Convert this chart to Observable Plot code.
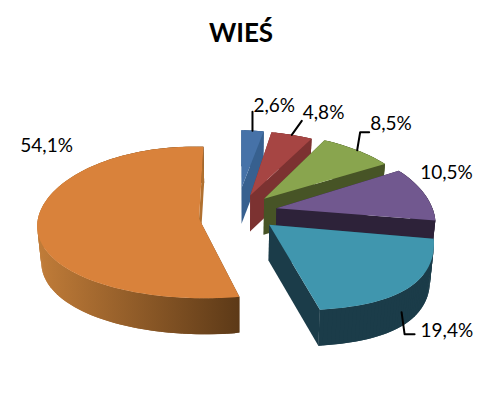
<!DOCTYPE html>
<html>
<head>
<meta charset="utf-8">
<script src="https://cdn.jsdelivr.net/npm/d3@7"></script>
<script src="https://cdn.jsdelivr.net/npm/@observablehq/plot@0.6"></script>
<style>html,body{margin:0;padding:0;background:#fff}</style>
</head>
<body>
<div id="chart"></div>
<script>
const title = "WIEŚ";
const values = [2.6, 4.8, 8.5, 10.5, 19.4, 54.1];
const topColors = ["#4672a8", "#a64543", "#89a54e", "#71588f", "#4096ae", "#d9823b"];
const wallColors = ["#37608f", "#7c3231", "#475426", "#2d2239", "#1b3c49", "url(#orangeWall)"];
const innerWallColors = ["#37608f", "#7c3231", "#475426", "#2d2239", "#1b3c49", "#b0702f"];
const drawOrder = [5, 0, 1, 2, 3, 4];

// 3D view settings
const view = {cx: 238, cy: 209, R: 159, K: 70, persp: 0.17, perspX: 0.12, ex: 0.248, ev: 0.33, depth: 36, shrink: 0.98, roll: 0.03, shear: 0.015};
// vertical fit of each slice: drop of its apex, linear and quadratic stretch away from the apex
const sliceFit = [
  {drop: 0, a: 1.065, b: 0}, {drop: 6.5, a: 1.19, b: 0}, {drop: 5, a: 1.2, b: 0},
  {drop: 3, a: 1.22, b: 0}, {drop: -1, a: 1.35, b: -0.00457}, {drop: 7.5, a: 1.081, b: -0.0018}
];
// label placement relative to each slice's outer arc at its middle angle
const labelOffsets = [[1, -25], [11, -22], [13, -26], [-4, -21], [14, 42], [-17, -78]];
const leaderPaths = [
  [[0, 0], [0, -19]],
  [[0, 0], [10, -14]],
  [[0, 0], [3, -18], [12, -18]],
  null,
  [[-5, 23], [-2, 45], [8, 45]],
  null
];

const total = d3.sum(values);
const starts = d3.cumsum([0, ...values]).map(d => d / total * 2 * Math.PI);
const mids = values.map((_, i) => (starts[i] + starts[i + 1]) / 2);

function raw(i, a, r) {
  const {cx, cy, R, K, persp, perspX, ex, ev} = view;
  const u = ex * Math.sin(mids[i]) + r * Math.sin(a);
  const v = -ev * Math.cos(mids[i]) - r * Math.cos(a);
  return [cx + R * u / (1 - perspX * v), cy + K * v / (1 - persp * v)];
}
function pt(i, a, r) {
  const {cx, cy, roll, shear} = view;
  const [x0, y0] = raw(i, a, r);
  const [, ya] = raw(i, mids[i], 0);
  const f = sliceFit[i];
  const dy = y0 - ya;
  const y1 = ya + f.drop + f.a * dy + f.b * dy * dy;
  return [x0 - shear * Math.max(0, y1 - cy), y1 + roll * (x0 - cx)];
}
const low = ([x, y]) => [view.cx + (x - view.cx) * view.shrink, y + view.depth];

const rows = [];
let pid = 0;
function poly(points, color) {
  pid++;
  for (const [x, y] of points) rows.push({id: pid, x, y, color});
}

for (const i of drawOrder) {
  const a0 = starts[i], a1 = starts[i + 1];
  const angles = d3.range(0, 1.0001, 1 / Math.max(8, Math.ceil((a1 - a0) * 40))).map(t => a0 + (a1 - a0) * t);
  const arc = angles.map(a => pt(i, a, 1));
  const apex = pt(i, mids[i], 0);
  const first = arc[0], last = arc[arc.length - 1];
  poly([apex, first, low(first), low(apex)], wallColors[i]);
  // outer wall as overlapping strips, so its silhouette stays closed at the turning points
  for (let k = 0; k < arc.length - 1; k++) {
    const p = arc[k], q = arc[Math.min(k + 2, arc.length - 1)];
    poly([p, q, low(q), low(p)], wallColors[i]);
  }
  poly([apex, last, low(last), low(apex)], innerWallColors[i]);
  poly([apex, ...arc], topColors[i]);
}

const labels = values.map((v, i) => {
  const [x, y] = pt(i, mids[i], 1);
  return {text: v.toFixed(1).replace(".", ",") + "%", x: x + labelOffsets[i][0], y: y + labelOffsets[i][1]};
});
const leaders = [];
leaderPaths.forEach((path, i) => {
  if (!path) return;
  const [x, y] = pt(i, mids[i], 1);
  path.forEach(([dx, dy]) => leaders.push({i, x: x + dx, y: y + dy}));
});

function gradientDefs() {
  const defs = d3.create("svg:defs");
  const g = defs.append("linearGradient").attr("id", "orangeWall")
    .attr("gradientUnits", "userSpaceOnUse").attr("x1", 35).attr("x2", 240).attr("y1", 0).attr("y2", 0);
  g.append("stop").attr("offset", "0%").attr("stop-color", "#c27d39");
  g.append("stop").attr("offset", "100%").attr("stop-color", "#5c3917");
  return defs.node();
}

const chart = Plot.plot({
  width: 478, height: 413,
  margin: 0,
  x: {domain: [0, 478], range: [0, 478], axis: null},
  y: {domain: [0, 413], range: [0, 413], axis: null},
  color: {type: "identity"},
  style: {background: "#fff", fontFamily: "Lato, sans-serif"},
  marks: [
    gradientDefs,
    Plot.line(rows, {x: "x", y: "y", z: "id", fill: "color", stroke: "none", curve: "linear-closed"}),
    Plot.line(leaders, {x: "x", y: "y", z: "i", stroke: "#000", strokeWidth: 2, curve: "linear"}),
    Plot.text(labels, {x: "x", y: "y", text: "text", textAnchor: "start", fontSize: 19, fill: "#000"}),
    Plot.text([title], {x: () => 240.5, y: () => 33, text: d => d, fontSize: 26, fontWeight: "bold", fill: "#000"})
  ]
});
document.getElementById("chart").append(chart);
</script>
</body>
</html>
